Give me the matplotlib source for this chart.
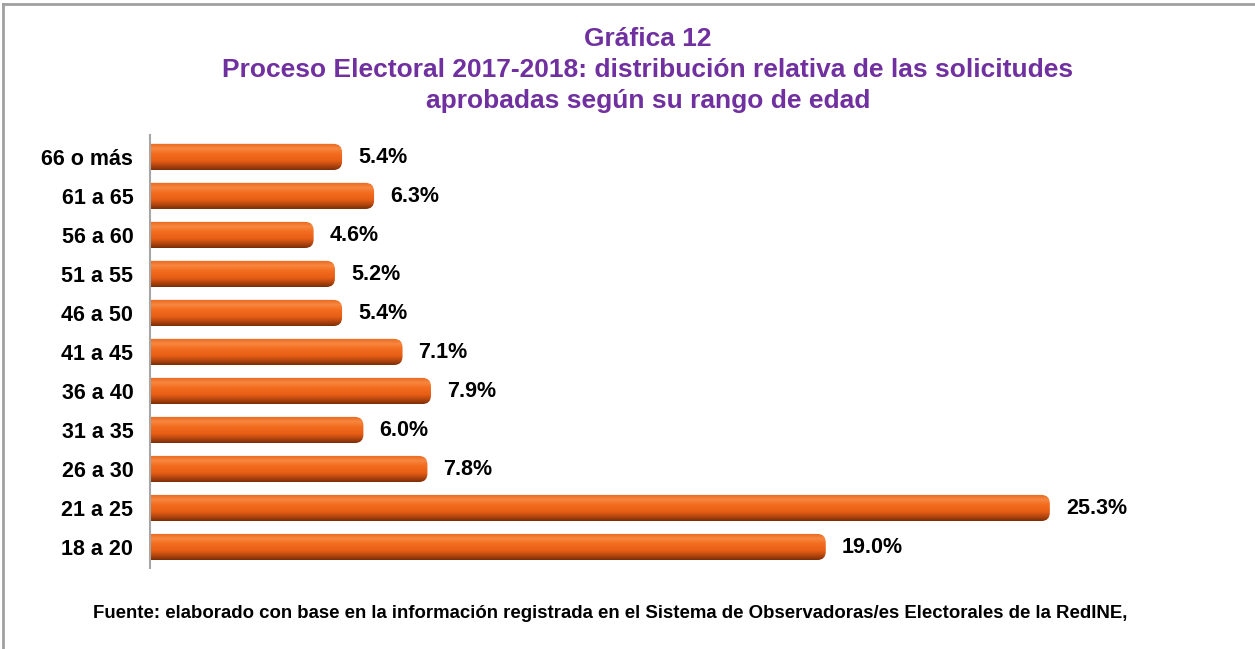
import matplotlib.pyplot as plt
import numpy as np
from matplotlib.patches import FancyBboxPatch
from matplotlib.colors import LinearSegmentedColormap
from matplotlib.lines import Line2D

plt.rcParams["font.family"] = ["Liberation Sans", "DejaVu Sans"]

# data, bottom to top as drawn
age_ranges = ["18 a 20", "21 a 25", "26 a 30", "31 a 35", "36 a 40", "41 a 45",
              "46 a 50", "51 a 55", "56 a 60", "61 a 65", "66 o más"]
shares = [19.0, 25.3, 7.8, 6.0, 7.9, 7.1, 5.4, 5.2, 4.6, 6.3, 5.4]

title = ("Gráfica 12\nProceso Electoral 2017-2018: distribución relativa de las solicitudes\n"
         "aprobadas según su rango de edad")
source = ("Fuente: elaborado con base en la información registrada en el Sistema de "
          "Observadoras/es Electorales de la RedINE,")

purple = "#7030A0"
bar_h = 0.67

fig = plt.figure(figsize=(12.55, 6.49), dpi=100)
ax = fig.add_axes([150 / 1255, 1 - 570 / 649, (1217 - 150) / 1255, 440 / 649])
ax.set_xlim(0, 30)
ax.set_ylim(-0.59, 10.69)

# vertical gradient for the cylinder look (position 0 = bottom of bar)
cmap = LinearSegmentedColormap.from_list(
    "cyl", [(0.0, "#7A2E08"), (0.15, "#B0440E"), (0.35, "#E85E16"),
            (0.6, "#F26C1E"), (0.8, "#F7873F"), (1.0, "#E9661F")])
grad = np.linspace(0, 1, 64).reshape(-1, 1)

# pixel aspect between data units (y per x for equal pixel length)
aspect = (1 / 39.0) / (1 / 35.57)

y = np.arange(len(age_ranges))
bars = ax.barh(y, shares, height=bar_h, color="none", edgecolor="none")
for rect, val in zip(bars, shares):
    x0, y0 = -0.4, rect.get_y()
    w, h = rect.get_width() + 0.4, rect.get_height()
    patch = FancyBboxPatch((x0, y0), w, h,
                           boxstyle="round,pad=0,rounding_size=0.24",
                           mutation_aspect=aspect,
                           facecolor="none", edgecolor="none")
    ax.add_patch(patch)
    im = ax.imshow(grad, cmap=cmap, aspect="auto", origin="lower",
                   extent=(x0, x0 + w, y0, y0 + h), zorder=2)
    im.set_clip_path(patch)
    ax.text(val + 0.45, rect.get_y() + h / 2 - 0.02, f"{val:.1f}%",
            va="center", ha="left", fontsize=15.5, fontweight="bold")

ax.set_xlim(0, 30)
ax.set_ylim(-0.59, 10.69)
ax.set_yticks(y)
ax.set_yticklabels(age_ranges, fontsize=15.5, fontweight="bold")
ax.tick_params(axis="y", length=0, pad=12)
ax.set_xticks([])
for side in ["top", "right", "bottom"]:
    ax.spines[side].set_visible(False)
ax.spines["left"].set_color("#A6A6A6")
ax.spines["left"].set_linewidth(1.5)
ax.spines["left"].set_bounds(-0.53, 10.55)

fig.text(648 / 1255, 1 - 70 / 649, title, ha="center", va="center",
         fontsize=19, fontweight="bold", color=purple, linespacing=1.35)
fig.text(610 / 1255, 1 - 614 / 649, source, ha="center", va="center",
         fontsize=13.4, fontweight="bold")

# partial frame of the original figure box
fig.add_artist(Line2D([3 / 1255, 1], [1 - 4 / 649, 1 - 4 / 649],
                      color="#A0A0A0", lw=2, transform=fig.transFigure))
fig.add_artist(Line2D([3 / 1255, 3 / 1255], [0, 1 - 4 / 649],
                      color="#A0A0A0", lw=2, transform=fig.transFigure))

fig.savefig("out.png", dpi=100)
